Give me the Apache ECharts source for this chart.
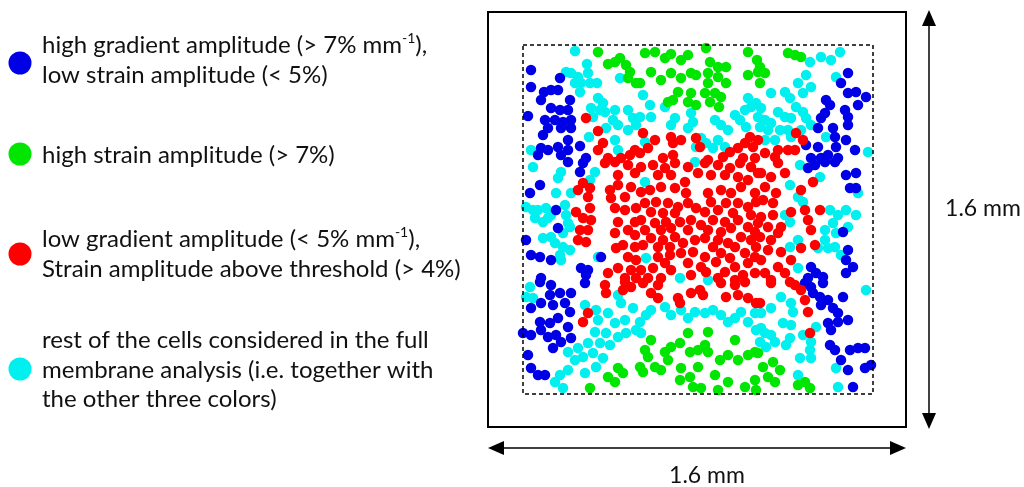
<!DOCTYPE html>
<html>
<head>
<meta charset="utf-8">
<script src="https://cdn.jsdelivr.net/npm/echarts@6/dist/echarts.min.js"></script>
<style>
  html, body { margin: 0; padding: 0; background: #fff; }
  #cells { width: 1024px; height: 487px; }
</style>
</head>
<body>
<div id="cells"></div>
<script>
   // cell positions inside the analysis window (px from top-left of the dashed box)
   var blueCells = [
       [8,25],[8,42],[37,33],[21,47],[28,45],[35,45],[18,55],[47,55],[28,63],[37,65],[45,65],[5,71],[22,75],[32,75],[40,77],[48,75],[25,83],[38,83],[48,83],[20,90],[45,95],[35,102],[57,101],[18,103],[25,105],[15,110],[38,110],[45,105],[63,113],
       [325,28],[318,38],[325,48],[333,47],[343,52],[335,60],[303,55],[307,60],[302,68],[322,65],[298,73],[310,83],[325,80],[325,72],[295,83],[312,92],[323,95],[313,102],[332,105],[283,100],[295,102],[305,110],[288,113],[298,113],[315,113],
       [45,117],[60,118],[57,127],[17,140],[7,148],[33,165],[35,183],[3,195],[8,210],[17,212],[28,215],[58,223],[65,225],[63,230],[18,233],[78,212],
       [285,123],[292,120],[302,117],[312,117],[323,130],[333,128],[327,143],[333,143],[320,187],[325,205],[323,215],[330,222],[323,228],[288,222],[293,228],[300,232],[285,233],
       [17,237],[28,240],[62,238],[27,250],[37,248],[48,248],[8,263],[18,258],[30,260],[42,258],[47,267],[17,277],[27,278],[35,273],[45,282],[0,288],[8,290],[18,285],[25,292],[33,290],[48,293],[38,297],[30,303],[5,310],[8,323],[15,330],[22,330],
       [282,238],[288,242],[300,238],[290,248],[297,252],[305,255],[298,260],[320,252],[310,263],[315,268],[325,275],[305,278],[315,277],[308,285],[307,300],[312,305],[327,305],[335,303],[342,303],[318,315],[325,325],[342,323],[348,320],[330,342]
   ];
   var greenCells = [
       [75,7],[85,19],[92,17],[97,13],[103,20],[107,27],[105,33],[113,38],
       [122,8],[132,7],[142,13],[148,9],[158,15],[165,10],[183,3],[187,17],[195,22],[203,22],[225,7],[234,15],[128,27],[138,35],[148,28],[158,33],[168,28],[173,30],[185,28],[185,38],[195,32],[203,38],[225,30],[235,27],[117,38],[155,47],[168,48],[182,48],[192,48],[198,52],[145,57],[150,55],[165,57],[173,60],[187,57],[196,62],
       [265,8],[272,10],[278,12],[237,22],[242,28],[237,38],
       [95,323],[100,328],[85,332],[92,337],[67,343],
       [128,295],[122,305],[125,312],[132,322],[142,307],[145,315],[138,325],[148,302],[157,298],[165,288],[167,307],[175,305],[185,287],[182,300],[185,307],[158,323],[175,322],[117,322],[120,327],[157,335],[167,332],[170,342],[178,343],[192,330],[197,315],[205,310],[212,295],[215,315],[225,310],[232,307],[195,345],[205,337],[222,342],[232,335],[233,345],
       [235,308],[240,322],[250,317],[257,325],[245,332],[252,337],[275,340],[282,337],[287,343]
   ];
   var redCells = [
       [63,73],[75,86],[80,98],[75,105],[85,113],[98,113],[107,110],[112,105],
       [120,88],[132,95],[148,92],[150,98],[158,95],[173,93],[177,102],[117,108],[125,103],[140,113],[150,110],[185,115],[200,112],[207,107],[215,103],[222,98],[227,92],[230,102],[235,95],[220,113],[232,113],
       [273,88],[280,95],[255,105],[265,105],[272,105],[242,108],[252,112],
       [82,118],[92,117],[105,120],[95,130],[112,128],[60,138],[67,143],[55,145],[65,152],[87,145],[95,140],[108,142],[102,152],[88,153],[67,163],[53,167],[60,173],[68,175],[92,163],[102,165],[113,163],[95,177],[112,177],[57,185],[65,185],[55,195],[63,197],[92,188],[105,185],[112,190],[100,200],[112,202],[93,203],[105,212],[113,215],[85,228],[95,223],[108,225],[102,233],[113,233],
       [118,122],[130,120],[142,123],[152,118],[165,122],[182,118],[195,120],[207,123],[217,118],[228,122],[235,128],[135,130],[148,130],[162,137],[175,128],[188,130],[202,130],[215,132],[225,135],
       [118,147],[127,145],[138,142],[152,143],[163,148],[185,148],[198,145],[208,148],[218,142],[232,148],
       [122,158],[133,157],[145,158],[155,162],[165,158],[173,163],[188,157],[203,158],[215,158],[225,162],[233,157],[128,167],[140,168],[152,168],[182,167],[195,165],[210,168],[228,170],
       [118,175],[132,178],[143,177],[157,177],[168,175],[178,180],[190,175],[202,177],[215,175],[225,182],[235,178],[122,185],[138,185],[148,183],[165,185],[185,185],[198,187],[208,183],[232,187],
       [128,193],[140,195],[152,192],[160,198],[172,195],[182,193],[195,195],[205,198],[218,192],[228,195],[120,200],[135,202],[147,202],[190,202],[212,202],[233,202],
       [135,212],[147,210],[158,208],[170,207],[182,212],[198,208],[207,213],[222,208],[232,212],[142,218],[165,218],[178,222],[193,217],[212,222],[225,218],
       [118,225],[130,223],[148,225],[168,230],[183,227],[202,227],[220,230],[232,228],[125,233],[138,233],[195,233],[212,235],
       [238,128],[248,132],[262,128],[255,118],[278,145],[290,137],[242,142],[253,148],[240,155],[250,158],[268,167],[282,165],[297,165],[285,175],[238,172],[250,170],[258,182],[245,182],[288,185],[237,192],[248,195],[255,188],[278,203],[292,200],[245,205],[258,207],[268,215],[238,215],[255,222],[242,228],[262,228],[248,235],
       [82,240],[83,248],[102,237],[108,242],[100,245],[65,268],[60,277],
       [120,238],[135,240],[128,248],[135,253],[155,253],[157,258],[168,248],[177,245],[180,250],[198,238],[212,240],[222,237],[203,252],[215,250],[225,253],[233,258],
       [248,238],[267,237],[272,240],[278,245],[282,255],[237,258],[285,267],[287,288]
   ];
   var cyanCells = [
       [52,6],[64,19],[65,28],[43,27],[48,28],[55,32],[52,38],[58,38],[67,38],[74,38],[57,47],[97,33],[75,53],[80,58],[77,65],[68,63],[70,72],[82,67],[92,65],[90,75],[95,80],[105,65],[110,73],[113,80],[83,83],[92,95],[95,105],[105,85],[8,105],[66,92],
       [120,50],[127,60],[117,72],[128,72],[142,62],[152,73],[148,80],[168,68],[170,77],[192,75],[198,80],[205,85],[212,70],[217,75],[222,65],[228,62],[225,53],[233,58],[235,72],[223,82],[122,97],[178,93],[183,98],[190,103],[195,95],[202,102],[173,102],[165,83],
       [287,17],[298,12],[308,15],[317,7],[313,32],[283,30],[275,38],[288,42],[280,48],[262,47],[267,53],[248,48],[273,62],[238,63],[255,67],[262,72],[268,73],[280,67],[283,73],[288,80],[242,75],[248,78],[237,82],[245,85],[257,85],[265,85],[278,85],[268,92],[252,95],[242,95],[303,92],[345,107],
       [10,122],[38,127],[35,133],[33,148],[48,148],[72,127],[67,135],[3,162],[10,165],[15,165],[23,163],[28,170],[42,160],[43,170],[12,173],[20,177],[25,173],[45,178],[20,193],[28,192],[40,188],[47,182],[32,198],[40,202],[37,210],[47,205],[38,215],[75,212],
       [122,137],[172,117],[123,213],[157,233],[185,235],
       [277,120],[297,132],[267,140],[275,152],[280,157],[262,170],[267,177],[307,165],[315,170],[323,165],[333,170],[310,178],[325,182],[302,185],[313,188],[302,195],[295,203],[305,203],[312,202],[318,210],[267,202],[275,195],[275,223],[335,148],
       [7,242],[3,252],[10,253],[62,260],[73,265],[85,268],[75,275],[95,250],[98,258],[92,278],[102,275],[110,263],[113,285],[72,287],[83,288],[95,292],[103,288],[65,298],[77,298],[87,300],[55,303],[45,307],[60,312],[70,308],[80,313],[52,315],[73,322],[62,328],[45,325],[37,330],[32,337],[40,343],
       [117,277],[123,270],[128,265],[142,262],[148,270],[158,265],[165,273],[172,267],[182,268],[190,265],[198,270],[205,277],[212,273],[218,267],[225,277],[232,268],[233,285],[118,288],
       [343,245],[258,252],[268,258],[270,267],[248,263],[238,268],[260,278],[268,280],[293,282],[280,290],[288,297],[238,283],[242,288],[248,290],[252,297],[267,293],[237,297],[243,302],[263,300],[277,313],[287,305],[288,313],[275,330],[313,323],[315,342]
   ];

   var legendLines = [
       { color: '#0000e6', dotY: 63, top: 31, text: 'high gradient amplitude (> 7% mm{s|-1}),\nlow strain amplitude (< 5%)' },
       { color: '#00e600', dotY: 154, top: 141, text: 'high strain amplitude (> 7%)' },
       { color: '#ff0000', dotY: 254, top: 225, text: 'low gradient amplitude (< 5% mm{s|-1}),\nStrain amplitude above threshold (> 4%)' },
       { color: '#00f0f0', dotY: 369, top: 326, text: 'rest of the cells considered in the full\nmembrane analysis (i.e. together with\nthe other three colors)' }
   ];

   var cellmap = echarts.init(document.getElementById('cells'));

   var legendGraphics = [];
   legendLines.forEach(function (l) {
       legendGraphics.push({
           type: 'circle',
           shape: { cx: 20, cy: l.dotY, r: 11.5 },
           style: { fill: l.color }
       });
       legendGraphics.push({
           type: 'text',
           x: 42,
           y: l.top,
           style: {
               text: l.text,
               fill: '#111',
               fontSize: 24,
               fontFamily: 'Lato',
               lineHeight: 29.5,
               textVerticalAlign: 'top',
               rich: {
                   s: { fontSize: 14, fontFamily: 'Lato', lineHeight: 16, verticalAlign: 'top', fill: '#111' }
               }
           }
       });
   });

   var frameGraphics = [
       { type: 'rect', shape: { x: 488, y: 12, width: 418, height: 415 }, style: { fill: 'none', stroke: '#000', lineWidth: 2 } },
       { type: 'rect', z: 10, shape: { x: 523, y: 45, width: 350, height: 349 }, style: { fill: 'none', stroke: '#000', lineWidth: 1.5, lineDash: [4, 3] } },
       // vertical 1.6 mm arrow
       { type: 'line', shape: { x1: 929, y1: 22, x2: 929, y2: 417 }, style: { stroke: '#000', lineWidth: 1.5 } },
       { type: 'polygon', shape: { points: [[929, 10], [922, 26], [936, 26]] }, style: { fill: '#000' } },
       { type: 'polygon', shape: { points: [[929, 429], [922, 413], [936, 413]] }, style: { fill: '#000' } },
       // horizontal 1.6 mm arrow
       { type: 'line', shape: { x1: 500, y1: 448, x2: 894, y2: 448 }, style: { stroke: '#000', lineWidth: 1.5 } },
       { type: 'polygon', shape: { points: [[488, 448], [504, 441], [504, 455]] }, style: { fill: '#000' } },
       { type: 'polygon', shape: { points: [[906, 448], [890, 441], [890, 455]] }, style: { fill: '#000' } },
       { type: 'text', x: 983, y: 209, style: { text: '1.6 mm', fill: '#111', fontSize: 23, fontFamily: 'Lato', textAlign: 'center', textVerticalAlign: 'middle' } },
       { type: 'text', x: 707, y: 476, style: { text: '1.6 mm', fill: '#111', fontSize: 23, fontFamily: 'Lato', textAlign: 'center', textVerticalAlign: 'middle' } }
   ];

   function cellSeries(name, data, color) {
       return {
           name: name,
           type: 'scatter',
           data: data,
           symbolSize: 10.5,
           clip: false,
           itemStyle: { color: color, opacity: 1 },
           emphasis: { disabled: true }
       };
   }

   var option_cells = {
       animation: false,
       grid: { left: 523, top: 45, width: 350, height: 349 },
       xAxis: { type: 'value', min: 0, max: 350, show: false },
       yAxis: { type: 'value', min: 0, max: 349, inverse: true, show: false },
       graphic: frameGraphics.concat(legendGraphics),
       series: [
           cellSeries('rest', cyanCells, '#00f0f0'),
           cellSeries('high gradient', blueCells, '#0000e6'),
           cellSeries('high strain', greenCells, '#00e600'),
           cellSeries('low gradient', redCells, '#ff0000')
       ]
   };
   cellmap.setOption(option_cells);
   window.onresize = function() {
       cellmap.resize();
   };
</script>
</body>
</html>
